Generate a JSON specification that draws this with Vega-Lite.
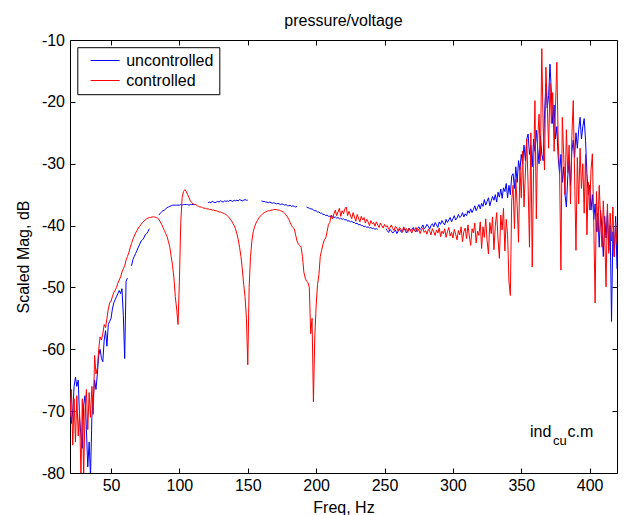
{
"$schema": "https://vega.github.io/schema/vega-lite/v6.json",
"width": 547, "height": 433,
"autosize": {"type": "none"},
"padding": {"left": 70, "top": 40, "right": 9, "bottom": 42},
"background": "white",
"title": {"text": "pressure/voltage", "fontSize": 16, "font": "Liberation Sans", "fontWeight": "normal", "color": "black", "offset": -10, "anchor": "middle", "baseline": "alphabetic"},
"config": {
  "font": "Liberation Sans",
  "view": {"stroke": "black", "strokeWidth": 1},
  "axis": {"grid": false, "domain": false, "tickColor": "black", "tickSize": -5, "tickWidth": 1, "labelFontSize": 16, "labelColor": "black", "titleFontSize": 16, "titleFontWeight": "normal", "titleColor": "black", "labelFont": "Liberation Sans", "titleFont": "Liberation Sans"},
  "legend": {"orient": "none", "legendX": 7.3, "legendY": 7.2, "strokeColor": "black", "fillColor": "white", "padding": 5.3, "symbolType": "M0,0H8", "symbolSize": 52.6, "symbolStrokeWidth": 1, "labelFontSize": 16, "labelColor": "black", "labelFont": "Liberation Sans", "labelOffset": 27.6, "rowPadding": 4, "title": null}
},
"datasets": {
"spec": [
{"f":20,"uncontrolled":-68,"controlled":-71},
{"f":21,"uncontrolled":-72,"controlled":-66.5},
{"f":22,"uncontrolled":-70,"controlled":-75.5},
{"f":23,"uncontrolled":-66,"controlled":-68},
{"f":24,"uncontrolled":-64.5,"controlled":-75},
{"f":25,"uncontrolled":-66,"controlled":-67.5},
{"f":26,"uncontrolled":-65,"controlled":-74},
{"f":27,"uncontrolled":-71,"controlled":-70},
{"f":28,"uncontrolled":-74,"controlled":-80.5},
{"f":29,"uncontrolled":-76,"controlled":-68},
{"f":30,"uncontrolled":-69,"controlled":-80.5},
{"f":31,"uncontrolled":-67.5,"controlled":-70},
{"f":32,"uncontrolled":-73,"controlled":-66.5},
{"f":33,"uncontrolled":-79,"controlled":-73},
{"f":34,"uncontrolled":-75,"controlled":-67},
{"f":35,"uncontrolled":-80.5,"controlled":-71},
{"f":36,"uncontrolled":-71,"controlled":-66},
{"f":37,"uncontrolled":-68,"controlled":-70.5},
{"f":38,"uncontrolled":-65,"controlled":-61},
{"f":39,"uncontrolled":-66.5,"controlled":-64},
{"f":40,"uncontrolled":-64,"controlled":-63},
{"f":41,"uncontrolled":-61,"controlled":-60},
{"f":42,"uncontrolled":-60,"controlled":-58},
{"f":43,"uncontrolled":-61.5,"controlled":-58.5},
{"f":44,"uncontrolled":-62,"controlled":-57.5},
{"f":45,"uncontrolled":-58.5,"controlled":-56},
{"f":46,"uncontrolled":-57,"controlled":-56.5},
{"f":47,"uncontrolled":-59.5,"controlled":-55},
{"f":48,"uncontrolled":-56,"controlled":-53.5},
{"f":49,"uncontrolled":-55.5,"controlled":-52.5},
{"f":50,"uncontrolled":-55,"controlled":-52.2},
{"f":51,"uncontrolled":-53.5,"controlled":-51.5},
{"f":52,"uncontrolled":-52.5,"controlled":-50.8},
{"f":53,"uncontrolled":-52,"controlled":-50.5},
{"f":54,"uncontrolled":-51.5,"controlled":-50},
{"f":55,"uncontrolled":-51,"controlled":-49.3},
{"f":56,"uncontrolled":-50.5,"controlled":-48.8},
{"f":57,"uncontrolled":-51,"controlled":-48.3},
{"f":58,"uncontrolled":-50.2,"controlled":-47.5},
{"f":59,"uncontrolled":-54.5,"controlled":-47},
{"f":60,"uncontrolled":-61.5,"controlled":-46.5},
{"f":61,"uncontrolled":-49,"controlled":-45.6},
{"f":62,"uncontrolled":-48.5,"controlled":-45},
{"f":63,"uncontrolled":null,"controlled":-44.4},
{"f":64,"uncontrolled":null,"controlled":-43.6},
{"f":65,"uncontrolled":-46.5,"controlled":-42.9},
{"f":66,"uncontrolled":-45.5,"controlled":-42.2},
{"f":67,"uncontrolled":-45,"controlled":-41.7},
{"f":68,"uncontrolled":-44.5,"controlled":-41.2},
{"f":69,"uncontrolled":-44,"controlled":-40.8},
{"f":70,"uncontrolled":-43.5,"controlled":-40.4},
{"f":71,"uncontrolled":-43,"controlled":-40.1},
{"f":72,"uncontrolled":-42.5,"controlled":-39.8},
{"f":73,"uncontrolled":-42.3,"controlled":-39.5},
{"f":74,"uncontrolled":-42,"controlled":-39.3},
{"f":75,"uncontrolled":-41.5,"controlled":-39.1},
{"f":76,"uncontrolled":-41.3,"controlled":-38.9},
{"f":77,"uncontrolled":-41,"controlled":-38.8},
{"f":78,"uncontrolled":-40.5,"controlled":-38.7},
{"f":79,"uncontrolled":null,"controlled":-38.7},
{"f":80,"uncontrolled":null,"controlled":-38.6},
{"f":81,"uncontrolled":null,"controlled":-38.6},
{"f":82,"uncontrolled":null,"controlled":-38.6},
{"f":83,"uncontrolled":null,"controlled":-38.7},
{"f":84,"uncontrolled":null,"controlled":-38.8},
{"f":85,"uncontrolled":-38.3,"controlled":-39},
{"f":86,"uncontrolled":-38,"controlled":-39.4},
{"f":87,"uncontrolled":-37.8,"controlled":-39.8},
{"f":88,"uncontrolled":-37.6,"controlled":-40.3},
{"f":89,"uncontrolled":-37.5,"controlled":-40.8},
{"f":90,"uncontrolled":-37.3,"controlled":-41.3},
{"f":91,"uncontrolled":-37.1,"controlled":-41.8},
{"f":92,"uncontrolled":-37,"controlled":-42.6},
{"f":93,"uncontrolled":-36.9,"controlled":-43.5},
{"f":94,"uncontrolled":-36.8,"controlled":-45},
{"f":95,"uncontrolled":-36.7,"controlled":-46.5},
{"f":96,"uncontrolled":-36.7,"controlled":-48.5},
{"f":97,"uncontrolled":-36.7,"controlled":-51.5},
{"f":98,"uncontrolled":-36.7,"controlled":-53.5},
{"f":99,"uncontrolled":-36.7,"controlled":-56},
{"f":100,"uncontrolled":-36.7,"controlled":-49},
{"f":101,"uncontrolled":-36.6,"controlled":-39.5},
{"f":102,"uncontrolled":-36.7,"controlled":-35.5},
{"f":103,"uncontrolled":-36.6,"controlled":-34.5},
{"f":104,"uncontrolled":-36.6,"controlled":-34.2},
{"f":105,"uncontrolled":-36.6,"controlled":-34.5},
{"f":106,"uncontrolled":-36.6,"controlled":-35},
{"f":107,"uncontrolled":-36.7,"controlled":-35.5},
{"f":108,"uncontrolled":-36.6,"controlled":-36},
{"f":109,"uncontrolled":-36.6,"controlled":-36.3},
{"f":110,"uncontrolled":-36.6,"controlled":-36.5},
{"f":111,"uncontrolled":-36.6,"controlled":-36.6},
{"f":112,"uncontrolled":-36.6,"controlled":-36.6},
{"f":113,"uncontrolled":null,"controlled":-36.8},
{"f":114,"uncontrolled":null,"controlled":-36.9},
{"f":115,"uncontrolled":null,"controlled":-37},
{"f":116,"uncontrolled":null,"controlled":-37},
{"f":117,"uncontrolled":null,"controlled":-37.1},
{"f":118,"uncontrolled":null,"controlled":-37.2},
{"f":119,"uncontrolled":null,"controlled":-37.2},
{"f":120,"uncontrolled":null,"controlled":-37.3},
{"f":121,"uncontrolled":-36.3,"controlled":-37.3},
{"f":122,"uncontrolled":-36.2,"controlled":-37.4},
{"f":123,"uncontrolled":-36.3,"controlled":-37.4},
{"f":124,"uncontrolled":-36.1,"controlled":-37.5},
{"f":125,"uncontrolled":-36.2,"controlled":-37.5},
{"f":126,"uncontrolled":-36.3,"controlled":-37.6},
{"f":127,"uncontrolled":-36.2,"controlled":-37.6},
{"f":128,"uncontrolled":-36.1,"controlled":-37.7},
{"f":129,"uncontrolled":-36.2,"controlled":-37.8},
{"f":130,"uncontrolled":-36.0,"controlled":-37.8},
{"f":131,"uncontrolled":-36.1,"controlled":-37.9},
{"f":132,"uncontrolled":-36.2,"controlled":-38},
{"f":133,"uncontrolled":-36.0,"controlled":-38.1},
{"f":134,"uncontrolled":-36.1,"controlled":-38.2},
{"f":135,"uncontrolled":-36.0,"controlled":-38.4},
{"f":136,"uncontrolled":-36.1,"controlled":-38.6},
{"f":137,"uncontrolled":-35.9,"controlled":-38.9},
{"f":138,"uncontrolled":-36.0,"controlled":-39.2},
{"f":139,"uncontrolled":-36.1,"controlled":-39.6},
{"f":140,"uncontrolled":-35.9,"controlled":-40},
{"f":141,"uncontrolled":-36.0,"controlled":-40.5},
{"f":142,"uncontrolled":-35.9,"controlled":-41.3},
{"f":143,"uncontrolled":-36.0,"controlled":-42.2},
{"f":144,"uncontrolled":-35.8,"controlled":-43.5},
{"f":145,"uncontrolled":-35.9,"controlled":-45},
{"f":146,"uncontrolled":-36.0,"controlled":-47},
{"f":147,"uncontrolled":-35.9,"controlled":-49.5},
{"f":148,"uncontrolled":-35.8,"controlled":-51.5},
{"f":149,"uncontrolled":-35.9,"controlled":-55},
{"f":150,"uncontrolled":-35.9,"controlled":-62.5},
{"f":151,"uncontrolled":null,"controlled":-50},
{"f":152,"uncontrolled":null,"controlled":-45},
{"f":153,"uncontrolled":null,"controlled":-42.5},
{"f":154,"uncontrolled":null,"controlled":-41},
{"f":155,"uncontrolled":null,"controlled":-40.2},
{"f":156,"uncontrolled":null,"controlled":-39.6},
{"f":157,"uncontrolled":null,"controlled":-39.2},
{"f":158,"uncontrolled":null,"controlled":-38.8},
{"f":159,"uncontrolled":null,"controlled":-38.5},
{"f":160,"uncontrolled":-36,"controlled":-38.3},
{"f":161,"uncontrolled":-36.1,"controlled":-38.1},
{"f":162,"uncontrolled":-36.1,"controlled":-37.9},
{"f":163,"uncontrolled":-36.2,"controlled":-37.8},
{"f":164,"uncontrolled":-36.2,"controlled":-37.7},
{"f":165,"uncontrolled":-36.3,"controlled":-37.6},
{"f":166,"uncontrolled":-36.2,"controlled":-37.6},
{"f":167,"uncontrolled":-36.3,"controlled":-37.5},
{"f":168,"uncontrolled":-36.4,"controlled":-37.5},
{"f":169,"uncontrolled":-36.3,"controlled":-37.4},
{"f":170,"uncontrolled":-36.4,"controlled":-37.4},
{"f":171,"uncontrolled":-36.5,"controlled":-37.4},
{"f":172,"uncontrolled":-36.4,"controlled":-37.5},
{"f":173,"uncontrolled":-36.5,"controlled":-37.5},
{"f":174,"uncontrolled":-36.6,"controlled":-37.6},
{"f":175,"uncontrolled":-36.5,"controlled":-37.7},
{"f":176,"uncontrolled":-36.6,"controlled":-37.8},
{"f":177,"uncontrolled":-36.7,"controlled":-38},
{"f":178,"uncontrolled":-36.6,"controlled":-38.3},
{"f":179,"uncontrolled":-36.8,"controlled":-38.6},
{"f":180,"uncontrolled":-36.8,"controlled":-39},
{"f":181,"uncontrolled":-36.7,"controlled":-39.5},
{"f":182,"uncontrolled":-36.9,"controlled":-40},
{"f":183,"uncontrolled":-36.8,"controlled":-40.3},
{"f":184,"uncontrolled":-36.9,"controlled":-40.5},
{"f":185,"uncontrolled":-37,"controlled":-41.5},
{"f":186,"uncontrolled":-36.9,"controlled":-42.5},
{"f":187,"uncontrolled":null,"controlled":-43},
{"f":188,"uncontrolled":null,"controlled":-43.2},
{"f":189,"uncontrolled":null,"controlled":-43.5},
{"f":190,"uncontrolled":null,"controlled":-45},
{"f":191,"uncontrolled":null,"controlled":-47.5},
{"f":192,"uncontrolled":null,"controlled":-48.5},
{"f":193,"uncontrolled":-37,"controlled":-49},
{"f":194,"uncontrolled":-37.1,"controlled":-49.2},
{"f":195,"uncontrolled":-37.2,"controlled":-50},
{"f":196,"uncontrolled":-37.3,"controlled":-57.5},
{"f":197,"uncontrolled":-37.3,"controlled":-55},
{"f":198,"uncontrolled":-37.5,"controlled":-68.5},
{"f":199,"uncontrolled":-37.6,"controlled":-58},
{"f":200,"uncontrolled":-37.6,"controlled":-53},
{"f":201,"uncontrolled":-37.8,"controlled":-49.5},
{"f":202,"uncontrolled":-37.8,"controlled":-48},
{"f":203,"uncontrolled":-38,"controlled":-45},
{"f":204,"uncontrolled":-38,"controlled":-44},
{"f":205,"uncontrolled":-38.2,"controlled":-43},
{"f":206,"uncontrolled":-38.2,"controlled":-42.3},
{"f":207,"uncontrolled":-38.4,"controlled":-42},
{"f":208,"uncontrolled":-38.3,"controlled":-41},
{"f":209,"uncontrolled":-38.5,"controlled":-39.8},
{"f":210,"uncontrolled":-38.5,"controlled":-39.5},
{"f":211,"uncontrolled":-38.6,"controlled":-38.3},
{"f":212,"uncontrolled":-38.5,"controlled":-38.9},
{"f":213,"uncontrolled":-38.7,"controlled":-38.1},
{"f":214,"uncontrolled":-38.6,"controlled":-37.5},
{"f":215,"uncontrolled":-38.8,"controlled":-38.4},
{"f":216,"uncontrolled":-38.7,"controlled":-37.8},
{"f":217,"uncontrolled":-38.9,"controlled":-37.2},
{"f":218,"uncontrolled":-38.8,"controlled":-38.5},
{"f":219,"uncontrolled":-39,"controlled":-37.6},
{"f":220,"uncontrolled":-38.9,"controlled":-38.1},
{"f":221,"uncontrolled":-39.1,"controlled":-37.3},
{"f":222,"uncontrolled":-39,"controlled":-37.0},
{"f":223,"uncontrolled":-39.3,"controlled":-38.4},
{"f":224,"uncontrolled":-39.2,"controlled":-37.7},
{"f":225,"uncontrolled":-39.4,"controlled":-38.3},
{"f":226,"uncontrolled":-39.3,"controlled":-38.9},
{"f":227,"uncontrolled":-39.5,"controlled":-37.9},
{"f":228,"uncontrolled":-39.5,"controlled":-38.6},
{"f":229,"uncontrolled":-39.7,"controlled":-39.3},
{"f":230,"uncontrolled":-39.6,"controlled":-38.2},
{"f":231,"uncontrolled":-39.9,"controlled":-38.8},
{"f":232,"uncontrolled":-39.8,"controlled":-39.4},
{"f":233,"uncontrolled":-40,"controlled":-38.5},
{"f":234,"uncontrolled":-40,"controlled":-39.1},
{"f":235,"uncontrolled":-40.2,"controlled":-38.7},
{"f":236,"uncontrolled":-40.1,"controlled":-39.6},
{"f":237,"uncontrolled":-40.3,"controlled":-39.0},
{"f":238,"uncontrolled":-40.2,"controlled":-39.4},
{"f":239,"uncontrolled":-40.4,"controlled":-40.0},
{"f":240,"uncontrolled":-40.3,"controlled":-39.2},
{"f":241,"uncontrolled":-40.5,"controlled":-39.7},
{"f":242,"uncontrolled":-40.4,"controlled":-39.5},
{"f":243,"uncontrolled":-40.6,"controlled":-40.1},
{"f":244,"uncontrolled":-40.5,"controlled":-39.4},
{"f":245,"uncontrolled":-40.6,"controlled":-39.9},
{"f":246,"uncontrolled":null,"controlled":-40.3},
{"f":247,"uncontrolled":null,"controlled":-39.6},
{"f":248,"uncontrolled":null,"controlled":-40.0},
{"f":249,"uncontrolled":null,"controlled":-40.4},
{"f":250,"uncontrolled":null,"controlled":-39.8},
{"f":251,"uncontrolled":-40.5,"controlled":-40.2},
{"f":252,"uncontrolled":-40.8,"controlled":-40.0},
{"f":253,"uncontrolled":-41.1,"controlled":-40.6},
{"f":254,"uncontrolled":-40.6,"controlled":-40.3},
{"f":255,"uncontrolled":-40.9,"controlled":-39.9},
{"f":256,"uncontrolled":-41.2,"controlled":-40.5},
{"f":257,"uncontrolled":-41.0,"controlled":-40.8},
{"f":258,"uncontrolled":-40.7,"controlled":-40.1},
{"f":259,"uncontrolled":-41.3,"controlled":-40.4},
{"f":260,"uncontrolled":-40.9,"controlled":-40.9},
{"f":261,"uncontrolled":-40.6,"controlled":-40.3},
{"f":262,"uncontrolled":-41.0,"controlled":-40.6},
{"f":263,"uncontrolled":-41.1,"controlled":-41.0},
{"f":264,"uncontrolled":-40.5,"controlled":-40.2},
{"f":265,"uncontrolled":-40.7,"controlled":-40.7},
{"f":266,"uncontrolled":-41.2,"controlled":-40.5},
{"f":267,"uncontrolled":-40.8,"controlled":-41.1},
{"f":268,"uncontrolled":-40.4,"controlled":-40.4},
{"f":269,"uncontrolled":-40.9,"controlled":-40.8},
{"f":270,"uncontrolled":-40.6,"controlled":-41.2},
{"f":271,"uncontrolled":-40.3,"controlled":-40.5},
{"f":272,"uncontrolled":-40.8,"controlled":-40.9},
{"f":273,"uncontrolled":-41.0,"controlled":-40.3},
{"f":274,"uncontrolled":-40.5,"controlled":-41.0},
{"f":275,"uncontrolled":-40.2,"controlled":-40.6},
{"f":276,"uncontrolled":-40.6,"controlled":-41.3},
{"f":277,"uncontrolled":-40.4,"controlled":-40.7},
{"f":278,"uncontrolled":-39.9,"controlled":-40.4},
{"f":279,"uncontrolled":-40.5,"controlled":-41.1},
{"f":280,"uncontrolled":-40.3,"controlled":-40.8},
{"f":281,"uncontrolled":-39.8,"controlled":-41.4},
{"f":282,"uncontrolled":-40.1,"controlled":-40.6},
{"f":283,"uncontrolled":-40.6,"controlled":-40.9},
{"f":284,"uncontrolled":-40.0,"controlled":-41.5},
{"f":285,"uncontrolled":-39.7,"controlled":-40.5},
{"f":286,"uncontrolled":-40.2,"controlled":-41.0},
{"f":287,"uncontrolled":-39.5,"controlled":-41.6},
{"f":288,"uncontrolled":-39.9,"controlled":-40.7},
{"f":289,"uncontrolled":-40.3,"controlled":-41.2},
{"f":290,"uncontrolled":-39.4,"controlled":-40.4},
{"f":291,"uncontrolled":-39.8,"controlled":-41.8},
{"f":292,"uncontrolled":-39.2,"controlled":-40.9},
{"f":293,"uncontrolled":-39.6,"controlled":-41.3},
{"f":294,"uncontrolled":-39.9,"controlled":-40.5},
{"f":295,"uncontrolled":-39.0,"controlled":-41.9},
{"f":296,"uncontrolled":-39.5,"controlled":-41.0},
{"f":297,"uncontrolled":-39.1,"controlled":-40.3},
{"f":298,"uncontrolled":-38.7,"controlled":-41.7},
{"f":299,"uncontrolled":-39.4,"controlled":-41.1},
{"f":300,"uncontrolled":-38.9,"controlled":-42.0},
{"f":301,"uncontrolled":-38.4,"controlled":-40.6},
{"f":302,"uncontrolled":-39.1,"controlled":-41.4},
{"f":303,"uncontrolled":-38.8,"controlled":-42.3},
{"f":304,"uncontrolled":-38.2,"controlled":-40.8},
{"f":305,"uncontrolled":-38.7,"controlled":-41.5},
{"f":306,"uncontrolled":-38.5,"controlled":-40.2},
{"f":307,"uncontrolled":-37.9,"controlled":-42.6},
{"f":308,"uncontrolled":-38.6,"controlled":-41.0},
{"f":309,"uncontrolled":-38.1,"controlled":-40.4},
{"f":310,"uncontrolled":-38.4,"controlled":-42.1},
{"f":311,"uncontrolled":-37.6,"controlled":-39.9},
{"f":312,"uncontrolled":-38.0,"controlled":-41.7},
{"f":313,"uncontrolled":-37.3,"controlled":-43.2},
{"f":314,"uncontrolled":-37.9,"controlled":-40.5},
{"f":315,"uncontrolled":-37.4,"controlled":-41.2},
{"f":316,"uncontrolled":-36.8,"controlled":-39.6},
{"f":317,"uncontrolled":-37.6,"controlled":-42.8},
{"f":318,"uncontrolled":-37.1,"controlled":-40.9},
{"f":319,"uncontrolled":-36.6,"controlled":-41.6},
{"f":320,"uncontrolled":-37.3,"controlled":-39.4},
{"f":321,"uncontrolled":-36.4,"controlled":-43.7},
{"f":322,"uncontrolled":-36.9,"controlled":-40.2},
{"f":323,"uncontrolled":-35.8,"controlled":-41.9},
{"f":324,"uncontrolled":-36.7,"controlled":-38.9},
{"f":325,"uncontrolled":-36.1,"controlled":-42.4},
{"f":326,"uncontrolled":-35.5,"controlled":-44.6},
{"f":327,"uncontrolled":-36.8,"controlled":-39.5},
{"f":328,"uncontrolled":-36.0,"controlled":-41.3},
{"f":329,"uncontrolled":-35.3,"controlled":-38.6},
{"f":330,"uncontrolled":-35.9,"controlled":-43.9},
{"f":331,"uncontrolled":-35.0,"controlled":-40.1},
{"f":332,"uncontrolled":-36.2,"controlled":-37.9},
{"f":333,"uncontrolled":-34.6,"controlled":-42.2},
{"f":334,"uncontrolled":-35.4,"controlled":-45.3},
{"f":335,"uncontrolled":-34.1,"controlled":-38.3},
{"f":336,"uncontrolled":-35.6,"controlled":-40.7},
{"f":337,"uncontrolled":-33.9,"controlled":-37.2},
{"f":338,"uncontrolled":-34.5,"controlled":-44.1},
{"f":339,"uncontrolled":-33.2,"controlled":-39.0},
{"f":340,"uncontrolled":-35.5,"controlled":-41.5},
{"f":341,"uncontrolled":-33.5,"controlled":-49},
{"f":342,"uncontrolled":-35,"controlled":-51.3},
{"f":343,"uncontrolled":-32,"controlled":-36},
{"f":344,"uncontrolled":-31.6,"controlled":-33.5},
{"f":345,"uncontrolled":-34,"controlled":-40.5},
{"f":346,"uncontrolled":-30.5,"controlled":-32.5},
{"f":347,"uncontrolled":-33,"controlled":-36.8},
{"f":348,"uncontrolled":-29.5,"controlled":-42.7},
{"f":349,"uncontrolled":-31,"controlled":-30.5},
{"f":350,"uncontrolled":-28.5,"controlled":-35.5},
{"f":351,"uncontrolled":-30,"controlled":-28},
{"f":352,"uncontrolled":-27,"controlled":-37},
{"f":353,"uncontrolled":-29.5,"controlled":-31.5},
{"f":354,"uncontrolled":-26,"controlled":-26},
{"f":355,"uncontrolled":-25.2,"controlled":-33.5},
{"f":356,"uncontrolled":-28.5,"controlled":-43.5},
{"f":357,"uncontrolled":-27,"controlled":-25},
{"f":358,"uncontrolled":-30.5,"controlled":-46.7},
{"f":359,"uncontrolled":-26,"controlled":-30.8},
{"f":360,"uncontrolled":-28,"controlled":-19.8},
{"f":361,"uncontrolled":-24.6,"controlled":-38.9},
{"f":362,"uncontrolled":-27.5,"controlled":-26},
{"f":363,"uncontrolled":-30,"controlled":-22},
{"f":364,"uncontrolled":-25.5,"controlled":-29.5},
{"f":365,"uncontrolled":-28.5,"controlled":-11.4},
{"f":366,"uncontrolled":-29.5,"controlled":-24},
{"f":367,"uncontrolled":-22,"controlled":-31},
{"f":368,"uncontrolled":-17.1,"controlled":-14.4},
{"f":369,"uncontrolled":-21,"controlled":-20.5},
{"f":370,"uncontrolled":-19,"controlled":-27.5},
{"f":371,"uncontrolled":-13.9,"controlled":-17},
{"f":372,"uncontrolled":-18.5,"controlled":-23.5},
{"f":373,"uncontrolled":-23.5,"controlled":-18.5},
{"f":374,"uncontrolled":-20.5,"controlled":-28},
{"f":375,"uncontrolled":-26,"controlled":-21},
{"f":376,"uncontrolled":-24,"controlled":-13.6},
{"f":377,"uncontrolled":-29,"controlled":-26.5},
{"f":378,"uncontrolled":-31.6,"controlled":-31},
{"f":379,"uncontrolled":-28.5,"controlled":-47.2},
{"f":380,"uncontrolled":-33,"controlled":-22.5},
{"f":381,"uncontrolled":-30.5,"controlled":-28.5},
{"f":382,"uncontrolled":-35,"controlled":-35},
{"f":383,"uncontrolled":-37,"controlled":-24.5},
{"f":384,"uncontrolled":-32,"controlled":-31.5},
{"f":385,"uncontrolled":-29.5,"controlled":-27},
{"f":386,"uncontrolled":-33.5,"controlled":-36.5},
{"f":387,"uncontrolled":-28,"controlled":-25.5},
{"f":388,"uncontrolled":-26.2,"controlled":-19.8},
{"f":389,"uncontrolled":-29,"controlled":-32},
{"f":390,"uncontrolled":-25,"controlled":-44},
{"f":391,"uncontrolled":-27.5,"controlled":-29},
{"f":392,"uncontrolled":-24.5,"controlled":-36.5},
{"f":393,"uncontrolled":-22.5,"controlled":-27.5},
{"f":394,"uncontrolled":-26,"controlled":-34},
{"f":395,"uncontrolled":-24,"controlled":-30},
{"f":396,"uncontrolled":-22.7,"controlled":-38},
{"f":397,"uncontrolled":-26.2,"controlled":-28.5},
{"f":398,"uncontrolled":-31.6,"controlled":-41.5},
{"f":399,"uncontrolled":-35,"controlled":-33},
{"f":400,"uncontrolled":-33.5,"controlled":-37.5},
{"f":401,"uncontrolled":-37.5,"controlled":-31},
{"f":402,"uncontrolled":-35,"controlled":-28.4},
{"f":403,"uncontrolled":-39,"controlled":-39.5},
{"f":404,"uncontrolled":-36.5,"controlled":-52.5},
{"f":405,"uncontrolled":-41,"controlled":-34.5},
{"f":406,"uncontrolled":-38,"controlled":-41},
{"f":407,"uncontrolled":-43.5,"controlled":-33.5},
{"f":408,"uncontrolled":-37.5,"controlled":-39},
{"f":409,"uncontrolled":-40.5,"controlled":-43.5},
{"f":410,"uncontrolled":-45,"controlled":-36},
{"f":411,"uncontrolled":-38.5,"controlled":-41.5},
{"f":412,"uncontrolled":-42,"controlled":-49.9},
{"f":413,"uncontrolled":-37.5,"controlled":-36.5},
{"f":414,"uncontrolled":-44,"controlled":-44.5},
{"f":415,"uncontrolled":-40,"controlled":-38},
{"f":416,"uncontrolled":-55.5,"controlled":-42.5},
{"f":417,"uncontrolled":-41,"controlled":-37},
{"f":418,"uncontrolled":-45,"controlled":-45},
{"f":419,"uncontrolled":-38.5,"controlled":-39.5},
{"f":420,"uncontrolled":-47,"controlled":-43}
],
"note": [
{"fx": 356.4, "vy": -74.2, "t": "ind"},
{"fx": 383.8, "vy": -74.2, "t": "c.m"}
],
"sub": [
{"fx": 373.2, "vy": -75.4, "t": "cu"}
]
},
"layer": [
{
  "data": {"name": "spec"},
  "transform": [{"fold": ["uncontrolled", "controlled"], "as": ["series", "mag"]}],
  "mark": {"type": "line", "strokeWidth": 1, "clip": true, "invalid": "break-paths-show-domains"},
  "encoding": {
    "x": {"field": "f", "type": "quantitative", "scale": {"domain": [20, 420], "nice": false, "zero": false},
          "axis": {"orient": "bottom", "values": [50,100,150,200,250,300,350,400], "labelExpr": "'' + datum.value", "title": "Freq, Hz", "labelPadding": 9, "titlePadding": 6}},
    "y": {"field": "mag", "type": "quantitative", "scale": {"domain": [-80, -10], "nice": false, "zero": false},
          "axis": {"orient": "left", "values": [-80,-70,-60,-50,-40,-30,-20,-10], "labelExpr": "'' + datum.value", "title": "Scaled Mag, dB", "labelPadding": 10.5, "titlePadding": 10}},
    "color": {"field": "series", "type": "nominal", "scale": {"domain": ["uncontrolled", "controlled"], "range": ["#0000ff", "#ff0000"]}, "legend": {"title": null}}
  }
},
{
  "data": {"name": "note"},
  "mark": {"type": "text", "fontSize": 16, "font": "Liberation Sans", "align": "left", "baseline": "alphabetic", "color": "black"},
  "encoding": {
    "x": {"field": "fx", "type": "quantitative", "scale": {"domain": [20, 420], "nice": false, "zero": false},
          "axis": {"orient": "top", "values": [50,100,150,200,250,300,350,400], "labels": false, "title": null}},
    "y": {"field": "vy", "type": "quantitative", "scale": {"domain": [-80, -10], "nice": false, "zero": false},
          "axis": {"orient": "right", "values": [-80,-70,-60,-50,-40,-30,-20,-10], "labels": false, "title": null}},
    "text": {"field": "t"}
  }
},
{
  "data": {"name": "sub"},
  "mark": {"type": "text", "fontSize": 13, "font": "Liberation Sans", "align": "left", "baseline": "alphabetic", "color": "black"},
  "encoding": {
    "x": {"field": "fx", "type": "quantitative", "scale": {"domain": [20, 420], "nice": false, "zero": false}, "axis": null},
    "y": {"field": "vy", "type": "quantitative", "scale": {"domain": [-80, -10], "nice": false, "zero": false}, "axis": null},
    "text": {"field": "t"}
  }
}
],
"resolve": {"axis": {"x": "independent", "y": "independent"}}
}
